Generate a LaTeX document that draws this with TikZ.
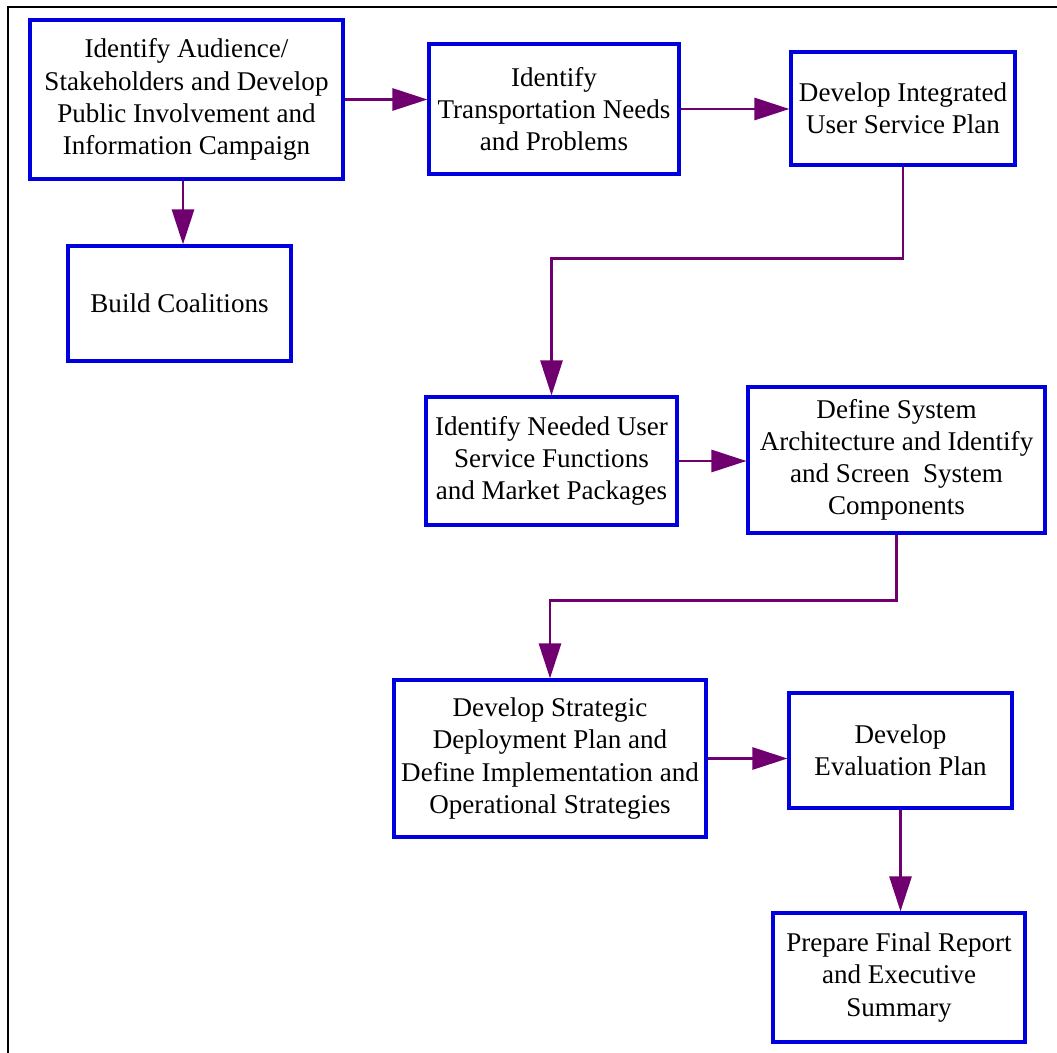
\documentclass[tikz,border=0pt]{standalone}
\usepackage{fontspec}
\setmainfont{Liberation Serif}
\usetikzlibrary{arrows.meta}

\definecolor{boxblue}{RGB}{0,0,222}
\definecolor{flowpurple}{RGB}{112,0,112}

\tikzset{
  stepbox/.style={draw=boxblue, line width=1.8pt, align=center, inner sep=0pt,
    font=\fontsize{15.4}{18.3}\selectfont},
  flow/.style={draw=flowpurple, line width=1.6pt,
    -{Triangle[length=0.7cm,width=0.44cm]}, color=flowpurple}
}

\begin{document}
\begin{tikzpicture}[x=0.02cm, y=-0.02cm]
    \useasboundingbox (0,0) rectangle (1057,1053);

    % Outer frame (top and left edges only)
    \draw[line width=1.2pt] (1057,7) -- (8,7) -- (8,1053);

    % Draw the boxes
    \node[stepbox, minimum width=6.26cm, minimum height=3.18cm] (audience) at (186.5,99.5)
      {Identify Audience/\\Stakeholders and Develop\\Public Involvement and\\Information Campaign};
    \node[stepbox, minimum width=5cm, minimum height=2.6cm] (needs) at (554,109)
      {Identify\\Transportation Needs\\and Problems};
    \node[stepbox, minimum width=4.48cm, minimum height=2.26cm] (userplan) at (903,108.5)
      {Develop Integrated\\User Service Plan};
    \node[stepbox, minimum width=4.46cm, minimum height=2.3cm] (coalitions) at (179.5,303.5)
      {Build Coalitions};
    \node[stepbox, minimum width=5.02cm, minimum height=2.56cm] (functions) at (551.5,461)
      {Identify Needed User\\Service Functions\\and Market Packages};
    \node[stepbox, minimum width=5.94cm, minimum height=2.92cm] (architecture) at (896.5,460)
      {Define System\\Architecture and Identify\\and Screen~ System\\Components};
    \node[stepbox, minimum width=6.24cm, minimum height=3.14cm] (strategies) at (550,758.5)
      {Develop Strategic\\Deployment Plan and\\Define Implementation and\\Operational Strategies};
    \node[stepbox, minimum width=4.46cm, minimum height=2.3cm] (evaluation) at (900.5,750.5)
      {Develop\\Evaluation Plan};
    \node[stepbox, minimum width=5.04cm, minimum height=2.58cm] (report) at (899,977.5)
      {Prepare Final Report\\and Executive\\Summary};

    % Draw the connectors
    \draw[flow] (audience.east) -- (needs.west |- audience.east);
    \draw[flow] (needs.east) -- (userplan.west |- needs.east);
    \draw[flow] ([xshift=-0.07cm]audience.south) -- ([xshift=-0.07cm]audience.south |- coalitions.north);
    \draw[flow] (userplan.south) -- ++(0,92) -| (functions.north);
    \draw[flow] (functions.east) -- (architecture.west |- functions.east);
    \draw[flow] (architecture.south) -- ++(0,66) -| (strategies.north);
    \draw[flow] (strategies.east) -- (evaluation.west |- strategies.east);
    \draw[flow] (evaluation.south) -- (evaluation.south |- report.north);
\end{tikzpicture}
\end{document}
